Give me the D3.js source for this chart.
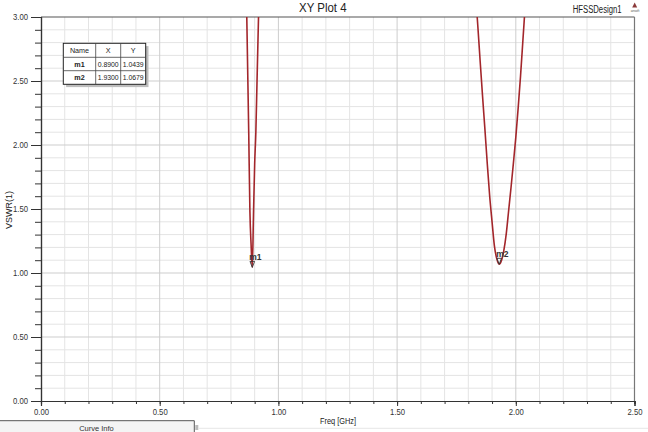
<!DOCTYPE html>
<html><head><meta charset="utf-8">
<script src="https://cdn.jsdelivr.net/npm/d3@7"></script>
<style>
html,body{margin:0;padding:0;background:#fff;}
svg{display:block;font-family:"Liberation Sans",Arial,sans-serif;}
</style></head><body>
<svg id="c" width="648" height="432"></svg>
<script>
// ---- data ----
const freqGHz = [0.80, 0.85, 0.860, 0.865, 0.870, 0.875, 0.880, 0.885, 0.890, 0.895, 0.900, 0.905, 0.910, 0.915, 0.920, 0.93, 1.00, 1.40, 1.70, 1.80, 1.82, 1.83, 1.84, 1.85, 1.86, 1.87, 1.88, 1.89, 1.90, 1.91, 1.92, 1.93, 1.94, 1.95, 1.96, 1.97, 1.98, 1.99, 2.00, 2.01, 2.02, 2.03, 2.04, 2.05, 2.10, 2.30, 2.50];
const vswr    = [9.0, 5.0, 3.75, 3.2, 2.65, 2.1, 1.48, 1.22, 1.0439, 1.45, 1.85, 2.1, 2.5, 2.9, 3.3, 4.1, 8.0, 12.0, 7.0, 4.0, 3.5, 3.2, 2.93, 2.65, 2.38, 2.12, 1.85, 1.6, 1.4, 1.21, 1.11, 1.0679, 1.10, 1.18, 1.31, 1.49, 1.67, 1.86, 2.06, 2.29, 2.54, 2.82, 3.10, 3.38, 4.8, 9.0, 12.0];
const xTickValues = [0, 0.5, 1.0, 1.5, 2.0, 2.5];
const yTickValues = [0, 0.5, 1.0, 1.5, 2.0, 2.5, 3.0];
const markerNames = ["m1", "m2"];
const markerFreq = [0.8900, 1.9300];
const markerVswr = [1.0439, 1.0679];
const tableHeaders = ["Name", "X", "Y"];
const titleText = "XY Plot 4";
const designText = "HFSSDesign1";
const xLabelText = "Freq [GHz]";
const yLabelText = "VSWR(1)";

// ---- layout ----
const svg = d3.select("#c");
const L = 41, R = 634.5, T = 17, B = 401;
const x = d3.scaleLinear().domain([0, 2.5]).range([L, R]);
const y = d3.scaleLinear().domain([0, 3]).range([B, T]);
const fmt2 = d3.format(".2f"), fmt4 = d3.format(".4f");

// grid
const minorX = d3.range(1, 25).map(i => i / 10).filter(v => Math.round(v * 10) % 5 !== 0);
const majorX = xTickValues.filter(v => v > 0 && v < 2.5);
const minorY = d3.range(1, 30).map(i => i / 10).filter(v => Math.round(v * 10) % 5 !== 0);
const majorY = yTickValues.filter(v => v > 0 && v < 3);
const grid = svg.append("g");
grid.selectAll(".gx").data(minorX).join("line")
  .attr("x1", d => x(d)).attr("x2", d => x(d)).attr("y1", T).attr("y2", B)
  .attr("stroke", "#e4e4e4").attr("stroke-width", 1);
grid.selectAll(".gy").data(minorY).join("line")
  .attr("y1", d => y(d)).attr("y2", d => y(d)).attr("x1", L).attr("x2", R)
  .attr("stroke", "#e4e4e4").attr("stroke-width", 1);
grid.selectAll(".gX").data(majorX).join("line")
  .attr("x1", d => x(d)).attr("x2", d => x(d)).attr("y1", T).attr("y2", B)
  .attr("stroke", "#cdcdcd").attr("stroke-width", 1);
grid.selectAll(".gY").data(majorY).join("line")
  .attr("y1", d => y(d)).attr("y2", d => y(d)).attr("x1", L).attr("x2", R)
  .attr("stroke", "#cdcdcd").attr("stroke-width", 1);

// frame top/right
svg.append("line").attr("x1", L).attr("x2", R).attr("y1", T).attr("y2", T).attr("stroke", "#555").attr("stroke-width", 1.2);
svg.append("line").attr("x1", R).attr("x2", R).attr("y1", T).attr("y2", B).attr("stroke", "#777").attr("stroke-width", 1.2);

// axes
const yAxisMinor = d3.axisLeft(y).tickValues(d3.range(0, 31).map(i => i / 10)).tickSize(6).tickFormat("");
const yAxisMajor = d3.axisLeft(y).tickValues(yTickValues).tickSize(10).tickPadding(3).tickFormat(fmt2);
const xAxisMinor = d3.axisBottom(x).tickValues(d3.range(0, 26).map(i => i / 10)).tickSize(3).tickFormat("");
const xAxisMajor = d3.axisBottom(x).tickValues(xTickValues).tickSize(5).tickPadding(3).tickFormat(fmt2);
function styleAxis(g) {
  g.select(".domain").attr("stroke", "#333").attr("stroke-width", 1.2);
  g.selectAll(".tick line").attr("stroke", "#333");
  g.selectAll("text").attr("fill", "#333").attr("font-size", 9)
   .attr("font-family", "'Liberation Sans',Arial,sans-serif")
   .attr("textLength", 15).attr("lengthAdjust", "spacingAndGlyphs");
}
svg.append("g").attr("transform", `translate(${L},0)`).call(yAxisMinor).call(styleAxis);
svg.append("g").attr("transform", `translate(${L},0)`).call(yAxisMajor).call(styleAxis);
svg.append("g").attr("transform", `translate(0,${B})`).call(xAxisMinor).call(styleAxis);
svg.append("g").attr("transform", `translate(0,${B})`).call(xAxisMajor).call(styleAxis);

// curve
svg.append("clipPath").attr("id", "clip").append("rect")
  .attr("x", L).attr("y", T).attr("width", R - L).attr("height", B - T);
const pts = freqGHz.map((f, i) => [f, vswr[i]]);
const line = d3.line().x(d => x(d[0])).y(d => y(d[1])).curve(d3.curveMonotoneX);
svg.append("path").datum(pts).attr("clip-path", "url(#clip)")
  .attr("d", line).attr("fill", "none").attr("stroke", "#a3262b")
  .attr("stroke-width", 1.6).attr("stroke-linejoin", "round");

// markers
const mk = svg.append("g");
markerNames.forEach((n, i) => {
  const px = x(markerFreq[i]), py = y(markerVswr[i]);
  mk.append("path")
    .attr("d", `M${px - 2.3},${py - 6} L${px + 2.3},${py - 6} L${px},${py} Z`)
    .attr("fill", "none").attr("stroke", "#333").attr("stroke-width", 0.9);
  mk.append("text").attr("x", px - 3).attr("y", py - 7.5)
    .attr("font-size", 8.5).attr("fill", "#333").attr("font-weight", "bold").text(n);
});

// marker table
const tx = [63.3, 95.7, 120.7, 145.7];
const ty = [43.3, 57.3, 70.7, 84.3];
const tb = svg.append("g");
tb.append("rect").attr("x", tx[0] + 2.8).attr("y", ty[0] + 2.8)
  .attr("width", tx[3] - tx[0]).attr("height", ty[3] - ty[0]).attr("fill", "#bdbdbd");
tb.append("rect").attr("x", tx[0]).attr("y", ty[0])
  .attr("width", tx[3] - tx[0]).attr("height", ty[3] - ty[0])
  .attr("fill", "#fff").attr("stroke", "#222").attr("stroke-width", 1);
[tx[1], tx[2]].forEach(v => tb.append("line").attr("x1", v).attr("x2", v).attr("y1", ty[0]).attr("y2", ty[3]).attr("stroke", "#444").attr("stroke-width", 0.8));
[ty[1], ty[2]].forEach(v => tb.append("line").attr("y1", v).attr("y2", v).attr("x1", tx[0]).attr("x2", tx[3]).attr("stroke", "#444").attr("stroke-width", 0.8));
const rows = [tableHeaders].concat(markerNames.map((n, i) => [n, fmt4(markerFreq[i]), fmt4(markerVswr[i])]));
rows.forEach((r, ri) => {
  r.forEach((c, ci) => {
    const t = tb.append("text")
      .attr("x", (tx[ci] + tx[ci + 1]) / 2).attr("y", (ty[ri] + ty[ri + 1]) / 2 + 2.6)
      .attr("text-anchor", "middle").attr("font-size", 7.2).attr("fill", "#222")
      .attr("font-weight", (ri > 0 && ci === 0) ? "bold" : "normal").text(c);
    if (ri > 0 && ci > 0) t.attr("textLength", 21).attr("lengthAdjust", "spacingAndGlyphs");
  });
});

// titles
svg.append("text").attr("x", 322.8).attr("y", 12).attr("text-anchor", "middle")
  .attr("font-size", 12).attr("fill", "#222").attr("textLength", 47.5)
  .attr("lengthAdjust", "spacingAndGlyphs").text(titleText);
const dt = svg.append("text").attr("x", 0).attr("y", 0)
  .attr("font-size", 11.5).attr("fill", "#222").text(designText);
const dtw = dt.node().getComputedTextLength() || 73;
dt.attr("transform", `translate(572.7,12.6) scale(${49 / dtw},1)`);
// logo
svg.append("path").attr("d", "M634.7,2.6 L637.2,7.4 L632.2,7.4 Z").attr("fill", "#8b3a3a");
svg.append("text").attr("x", 635).attr("y", 12.2).attr("text-anchor", "middle")
  .attr("font-size", 3.2).attr("fill", "#555").text("ansoft");

svg.append("text").attr("x", 338).attr("y", 424).attr("text-anchor", "middle")
  .attr("font-size", 9).attr("fill", "#222").attr("textLength", 36)
  .attr("lengthAdjust", "spacingAndGlyphs").text(xLabelText);
svg.append("text").attr("transform", "translate(12,210) rotate(-90)").attr("text-anchor", "middle")
  .attr("font-size", 9).attr("fill", "#222").text(yLabelText);

// curve info panel (bottom left)
svg.append("rect").attr("x", 0).attr("y", 420.7).attr("width", 194.3).attr("height", 12).attr("fill", "#f4f4f4");
svg.append("line").attr("x1", 0).attr("x2", 194.3).attr("y1", 420.7).attr("y2", 420.7).attr("stroke", "#555").attr("stroke-width", 1);
svg.append("line").attr("x1", 194.3).attr("x2", 194.3).attr("y1", 420.7).attr("y2", 432).attr("stroke", "#555").attr("stroke-width", 1);
svg.append("rect").attr("x", 195.3).attr("y", 425).attr("width", 3).attr("height", 5).attr("fill", "#bbb");
svg.append("line").attr("x1", 199).attr("x2", 648).attr("y1", 428.3).attr("y2", 428.3).attr("stroke", "#e6e6e6").attr("stroke-width", 1);
svg.append("text").attr("x", 96.5).attr("y", 430.5).attr("text-anchor", "middle")
  .attr("font-size", 7.5).attr("fill", "#333").text("Curve Info");
</script>
</body></html>
